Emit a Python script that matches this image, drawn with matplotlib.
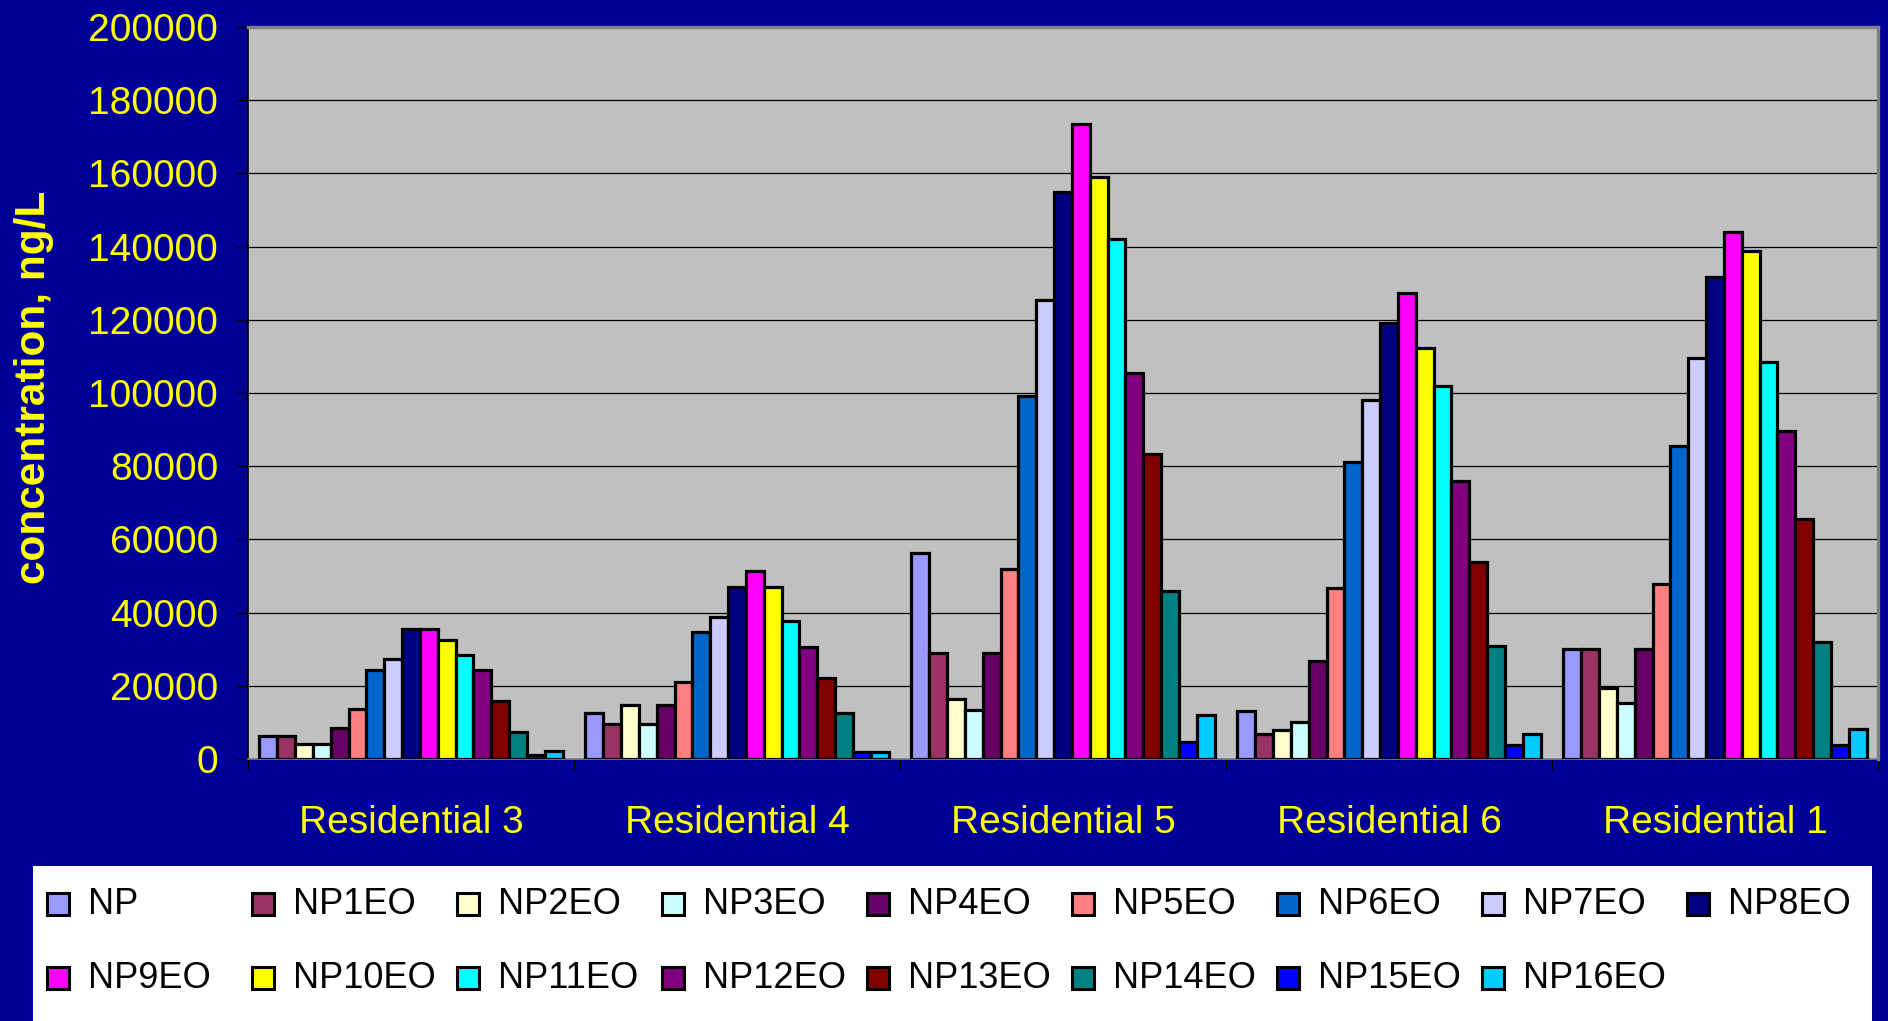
import matplotlib
matplotlib.use("Agg")
import matplotlib.pyplot as plt
from matplotlib.patches import Rectangle
from matplotlib import font_manager
import numpy as np

# ---- data -------------------------------------------------------------
sites = ["Residential 3", "Residential 4", "Residential 5", "Residential 6", "Residential 1"]

species = ["NP", "NP1EO", "NP2EO", "NP3EO", "NP4EO", "NP5EO", "NP6EO", "NP7EO",
           "NP8EO", "NP9EO", "NP10EO", "NP11EO", "NP12EO", "NP13EO", "NP14EO",
           "NP15EO", "NP16EO"]

# concentration (ng/L), one list per site, in the order of `species`
res3 = [6200, 6200, 4200, 4200, 8500, 13700, 24200, 27300, 35600, 35600, 32500,
        28300, 24200, 15800, 7400, 1100, 2200]
res4 = [12700, 9600, 14800, 9600, 14800, 21000, 34600, 38700, 47100, 51300, 47100,
        37800, 30500, 22200, 12700, 2000, 2000]
res5 = [56200, 28900, 16400, 13300, 28900, 52000, 99300, 125500, 154900, 173600,
        158900, 142000, 105400, 83400, 45900, 4700, 12100]
res6 = [13200, 6900, 7900, 10000, 26800, 46700, 81200, 98000, 119100, 127300,
        112400, 102000, 76000, 53900, 30800, 3800, 6800]
res1 = [30100, 30100, 19500, 15300, 30100, 47900, 85500, 109600, 131600, 143900,
        138900, 108500, 89700, 65700, 32100, 3700, 8100]
values = [res3, res4, res5, res6, res1]

colors = ["#9999FF", "#993366", "#FFFFCC", "#CCFFFF", "#660066", "#FF8080",
          "#0066CC", "#CCCCFF", "#000080", "#FF00FF", "#FFFF00", "#00FFFF",
          "#800080", "#800000", "#008080", "#0000FF", "#00CCFF"]

yticks = [0, 20000, 40000, 60000, 80000, 100000, 120000, 140000, 160000, 180000, 200000]

# ---- styling ----------------------------------------------------------
BG = "#000099"
PLOT_BG = "#C0C0C0"
YELLOW = "#FFFF00"

installed = {f.name for f in font_manager.fontManager.ttflist}
BASE = ["Liberation Sans", "DejaVu Sans"]
if "Liberation Sans Narrow" in installed:
    LEG_FAMILY, LEG_SIZE = ["Liberation Sans Narrow", "Liberation Sans"], 31
else:
    LEG_FAMILY, LEG_SIZE = BASE, 26
plt.rcParams["font.family"] = BASE

W, H, DPI = 1888, 1021, 100
fig = plt.figure(figsize=(W / DPI, H / DPI), dpi=DPI, facecolor=BG)

left_px, right_px, top_px, bottom_px = 248, 1878, 27, 759
ax = fig.add_axes([left_px / W, 1 - bottom_px / H,
                   (right_px - left_px) / W, (bottom_px - top_px) / H])
ax.set_facecolor(PLOT_BG)

n = len(species)
bar_w = 0.0547
for g, vals in enumerate(values):
    for j in range(n):
        x = g + 0.5 + (j - (n - 1) / 2) * bar_w
        ax.bar(x, vals[j], width=bar_w, color=colors[j], edgecolor="black",
               linewidth=2.3, zorder=3)

ax.set_xlim(0, len(sites))
ax.set_ylim(0, 200000)

# gridlines
ax.set_yticks(yticks)
ax.yaxis.grid(True, color="black", linewidth=0.9, zorder=1)
ax.set_axisbelow(True)
ax.set_yticklabels([str(v) for v in yticks], color=YELLOW, fontsize=28)
ax.tick_params(axis="y", direction="out", length=8.6, width=1.0, color="black", pad=13)

# categories
ax.set_xticks(np.arange(len(sites)) + 0.5)
ax.set_xticklabels(sites, color=YELLOW, fontsize=28)
ax.tick_params(axis="x", which="major", length=0, pad=33)
ax.set_xticks(np.arange(len(sites) + 1), minor=True)
ax.tick_params(axis="x", which="minor", direction="out", length=8, width=1.0, color="black")

# plot-area frame
for side in ("top", "right"):
    ax.spines[side].set_color("#808080")
    ax.spines[side].set_linewidth(2.4)
ax.spines["left"].set_color("black")
ax.spines["left"].set_linewidth(1.2)
ax.spines["bottom"].set_color("#808080")
ax.spines["bottom"].set_linewidth(1.2)

# axis title
fig.text(34 / W, 1 - 387 / H, "concentration, ng/L", rotation=90, ha="center",
         va="center", color=YELLOW, fontsize=30.5, fontweight="bold")

# legend panel
fig.patches.append(Rectangle((33 / W, 0), (1872 - 33) / W, 1 - 866 / H,
                             transform=fig.transFigure, facecolor="white",
                             edgecolor="none", zorder=0))
row_y = [904, 978]
col_x0, col_dx, per_row = 47, 205, 9
sq = 22
for k, (name, c) in enumerate(zip(species, colors)):
    r, col = divmod(k, per_row)
    xl = col_x0 + col * col_dx
    yc = row_y[r]
    fig.patches.append(Rectangle((xl / W, 1 - (yc + sq / 2) / H), sq / W, sq / H,
                                 transform=fig.transFigure, facecolor=c,
                                 edgecolor="black", linewidth=2.2, zorder=2))
    fig.text((xl + 41) / W, 1 - yc / H, name, ha="left", va="center",
             color="black", fontsize=LEG_SIZE, family=LEG_FAMILY)

fig.savefig("out.png", dpi=DPI, facecolor=BG)
